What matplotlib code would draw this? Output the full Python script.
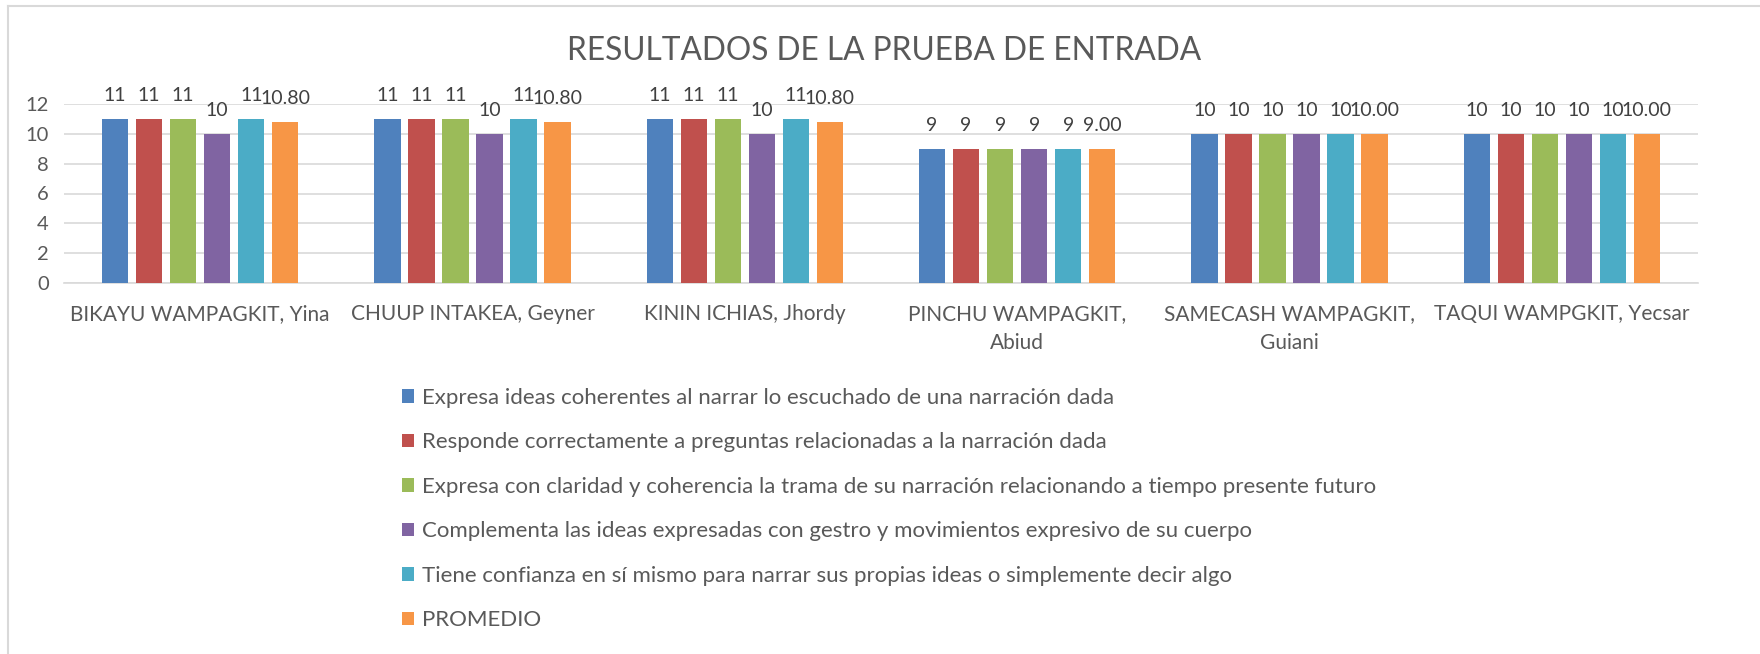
import matplotlib
matplotlib.use("Agg")
import matplotlib.pyplot as plt
import numpy as np
from matplotlib.lines import Line2D

plt.rcParams['font.family'] = ['Lato', 'DejaVu Sans']

students = ["BIKAYU WAMPAGKIT, Yina", "CHUUP INTAKEA, Geyner", "KININ ICHIAS, Jhordy",
            "PINCHU WAMPAGKIT,\nAbiud", "SAMECASH WAMPAGKIT,\nGuiani", "TAQUI WAMPGKIT, Yecsar"]
series_names = [
    "Expresa ideas coherentes al narrar lo escuchado de una narración dada",
    "Responde correctamente a preguntas relacionadas a la narración dada",
    "Expresa con claridad y coherencia la trama de su narración relacionando a tiempo presente futuro",
    "Complementa las ideas expresadas con gestro y movimientos expresivo de su cuerpo",
    "Tiene confianza en sí mismo para narrar sus propias ideas o simplemente decir algo",
    "PROMEDIO",
]
expresa_ideas = [11, 11, 11, 9, 10, 10]
responde = [11, 11, 11, 9, 10, 10]
claridad = [11, 11, 11, 9, 10, 10]
complementa = [10, 10, 10, 9, 10, 10]
confianza = [11, 11, 11, 9, 10, 10]
promedio = [10.80, 10.80, 10.80, 9.00, 10.00, 10.00]
y_ticks = [0, 2, 4, 6, 8, 10, 12]

series = [expresa_ideas, responde, claridad, complementa, confianza, promedio]
colors = ["#4F81BD", "#C0504D", "#9BBB59", "#8064A2", "#4BACC6", "#F79646"]
fmts = ["{:.0f}"] * 5 + ["{:.2f}"]

W, H = 1760, 654
fig = plt.figure(figsize=(W / 100, H / 100), dpi=100)
ax = fig.add_axes([64 / W, 1 - 283 / H, (1698 - 64) / W, (283 - 104) / H])

x = np.arange(len(students))
step = 0.125
bw = 0.097
n = len(series)
handles = []
for i, (vals, c, f) in enumerate(zip(series, colors, fmts)):
    off = (i - (n - 1) / 2) * step
    bars = ax.bar(x + off, vals, width=bw, color=c, zorder=3, label=series_names[i])
    handles.append(bars)
    for xi, v in zip(x + off, vals):
        ax.annotate(f.format(v), (xi, v), xytext=(0, 13), textcoords="offset points",
                    ha="center", va="baseline", fontsize=14, color="#404040",
                    annotation_clip=False)

ax.set_xlim(-0.5, len(students) - 0.5)
ax.set_ylim(0, 12)
ax.set_yticks(y_ticks)
ax.set_xticks(x)
ax.set_xticklabels(students, fontsize=15, color="#595959", linespacing=1.6)
ax.tick_params(axis="y", length=0, pad=11, labelsize=14.5, labelcolor="#595959")
ax.tick_params(axis="x", length=0, pad=15)
ax.grid(axis="y", color="#D9D9D9", linewidth=1.2, zorder=0)
for s in ["top", "right", "left"]:
    ax.spines[s].set_visible(False)
ax.spines["bottom"].set_color("#D9D9D9")
ax.spines["bottom"].set_linewidth(1.2)
ax.spines["bottom"].set_zorder(1)

fig.text(884 / W, 1 - 51 / H, "RESULTADOS DE LA PRUEBA DE ENTRADA", ha="center", va="center",
         fontsize=22.8, color="#595959")

fig.legend(handles=handles, labels=series_names, loc="upper left",
           bbox_to_anchor=(402 / W, 1 - 388 / H), frameon=False, fontsize=16,
           labelcolor="#595959", handlelength=0.55, handleheight=0.55,
           handletextpad=0.35, labelspacing=1.1, borderpad=0, borderaxespad=0)

# chart frame (left and top border)
fig.add_artist(Line2D([8 / W, 8 / W], [0, 1 - 6 / H], transform=fig.transFigure,
                      color="#D9D9D9", linewidth=1.5))
fig.add_artist(Line2D([8 / W, 1], [1 - 6 / H, 1 - 6 / H], transform=fig.transFigure,
                      color="#D9D9D9", linewidth=1.5))

fig.savefig("out.png", dpi=100)
